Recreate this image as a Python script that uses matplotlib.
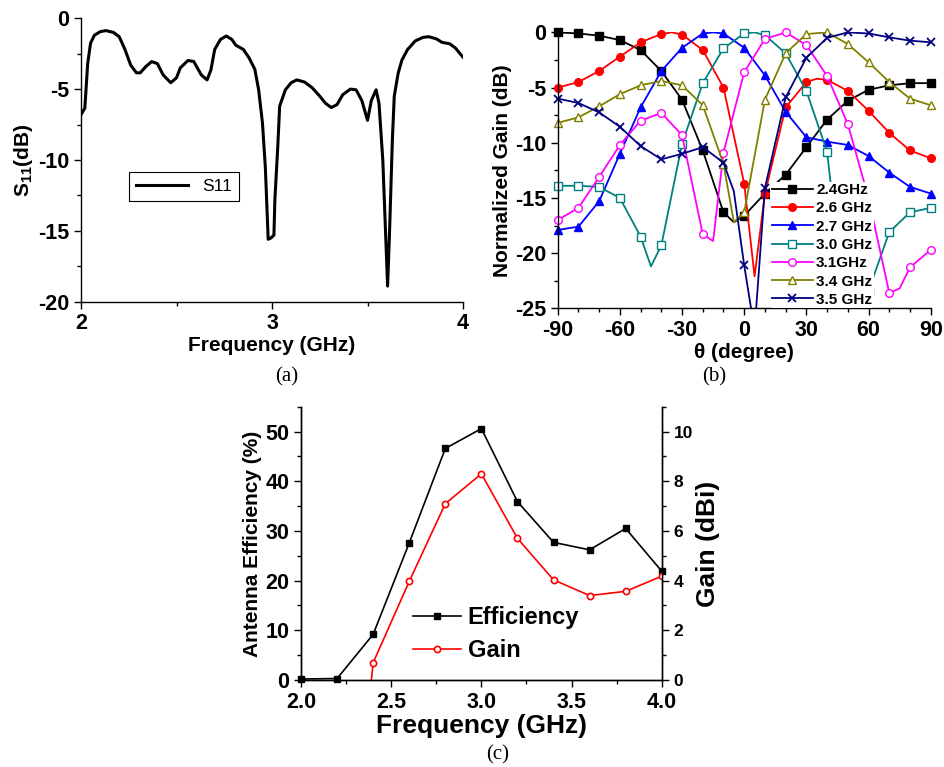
import numpy as np
import matplotlib
matplotlib.use("Agg")
import matplotlib.pyplot as plt
from matplotlib.ticker import MultipleLocator

plt.rcParams['font.family'] = ['Liberation Sans', 'DejaVu Sans']
plt.rcParams['font.weight'] = 'bold'
plt.rcParams['axes.labelweight'] = 'bold'
plt.rcParams['axes.unicode_minus'] = False
plt.rcParams['mathtext.fontset'] = 'custom'
plt.rcParams['mathtext.rm'] = 'Liberation Sans:bold'
plt.rcParams['mathtext.default'] = 'rm'

# ---------------- (a) S11 ----------------
freq_a = [2.0, 2.02, 2.035, 2.05, 2.07, 2.10, 2.13, 2.17, 2.20, 2.23, 2.26, 2.29, 2.31,
          2.34, 2.37, 2.40, 2.43, 2.47, 2.50, 2.52, 2.56, 2.59, 2.63, 2.66, 2.68, 2.70,
          2.73, 2.76, 2.79, 2.81, 2.85, 2.88, 2.91, 2.93, 2.95, 2.965, 2.98, 2.995, 3.01,
          3.015, 3.03, 3.04, 3.07, 3.10, 3.13, 3.17, 3.21, 3.25, 3.28, 3.31, 3.34, 3.37,
          3.41, 3.44, 3.47, 3.50, 3.52, 3.545, 3.56, 3.58, 3.60, 3.605, 3.615, 3.63, 3.64,
          3.66, 3.68, 3.71, 3.75, 3.79, 3.82, 3.86, 3.89, 3.93, 3.96, 4.0]
s11 = [-6.8, -6.35, -3.2, -1.76, -1.2, -0.95, -0.87, -1.0, -1.3, -2.2, -3.3, -3.85, -3.85,
       -3.4, -3.06, -3.2, -4.0, -4.55, -4.2, -3.5, -2.98, -3.05, -4.0, -4.35, -3.65, -2.2,
       -1.5, -1.25, -1.5, -1.9, -2.2, -2.8, -3.6, -5.05, -7.4, -10.5, -15.6, -15.5, -15.3,
       -12.8, -9.1, -6.2, -5.05, -4.55, -4.35, -4.5, -4.9, -5.5, -6.0, -6.3, -6.1, -5.4,
       -5.0, -5.05, -5.8, -7.2, -5.8, -5.05, -6.0, -10.0, -17.1, -18.9, -15.2, -8.6, -5.5,
       -3.9, -2.95, -2.2, -1.6, -1.35, -1.3, -1.45, -1.7, -1.8, -2.1, -2.75]

# ---------------- (b) normalized gain ----------------
labels_b = ['2.4GHz', '2.6 GHz', '2.7 GHz', '3.0 GHz', '3.1GHz', '3.4 GHz', '3.5 GHz']
colors_b = ['black', 'red', 'blue', '#008080', '#ff00ff', '#808000', '#000080']
markers_b = ['s', 'o', '^', 's', 'o', '^', 'x']
filled_b = [True, True, True, False, False, False, True]

th_24 = [-90, -80, -70, -60, -50, -40, -30, -20, -10, -5, 0, 10, 20, 30, 40, 50, 60, 70, 80, 90]
g_24 = [0, -0.1, -0.3, -0.7, -1.6, -3.5, -6.1, -10.7, -16.3, -17.2, -16.6, -14.6, -12.9,
        -10.4, -7.9, -6.2, -5.2, -4.8, -4.6, -4.6]
th_26 = [-90, -80, -70, -60, -50, -40, -35, -30, -20, -10, 0, 5, 10, 20, 30, 35, 40, 50, 60, 70, 80, 90]
g_26 = [-5.0, -4.5, -3.5, -2.2, -0.9, -0.15, 0.0, -0.2, -1.6, -5.0, -13.7, -22.1, -14.6,
        -6.8, -4.5, -4.2, -4.3, -5.3, -7.1, -9.1, -10.7, -11.4]
th_27 = [-90, -80, -70, -60, -50, -40, -30, -20, -15, -10, 0, 10, 20, 30, 40, 50, 60, 70, 80, 90]
g_27 = [-17.9, -17.6, -15.3, -11.0, -6.8, -3.5, -1.4, -0.1, 0.0, -0.1, -1.4, -3.9, -7.2,
        -9.5, -9.9, -10.2, -11.2, -12.7, -14.0, -14.6]
th_30 = [-90, -80, -70, -60, -50, -45, -40, -30, -20, -10, 0, 5, 10, 20, 30, 40, 50, 60, 70, 80, 90]
g_30 = [-13.9, -13.9, -14.0, -15.0, -18.5, -21.2, -19.3, -10.1, -4.6, -1.45, -0.1, 0.0,
        -0.25, -1.9, -5.3, -10.8, -27.5, -23.4, -18.1, -16.3, -15.9]
th_31 = [-90, -80, -70, -60, -50, -40, -30, -20, -15, -10, 0, 10, 20, 30, 40, 50, 60, 70, 75, 80, 90]
g_31 = [-17.0, -15.9, -13.1, -10.2, -8.0, -7.3, -9.3, -18.3, -18.9, -10.9, -3.6, -0.6, 0.0,
        -1.15, -3.95, -8.3, -15.0, -23.6, -23.2, -21.3, -19.7]
th_34 = [-90, -80, -70, -60, -50, -40, -30, -20, -10, -5, 0, 10, 20, 30, 40, 50, 60, 70, 80, 90]
g_34 = [-8.2, -7.7, -6.7, -5.6, -4.8, -4.4, -4.8, -6.6, -11.9, -17.2, -16.3, -6.1, -1.9,
        -0.15, 0.0, -1.06, -2.7, -4.5, -6.0, -6.6]
th_35 = [-90, -80, -70, -60, -50, -40, -30, -20, -10, -5, 0, 5, 10, 20, 30, 40, 50, 60, 70, 80, 90]
g_35 = [-6.0, -6.4, -7.25, -8.55, -10.3, -11.5, -11.0, -10.4, -11.8, -14.4, -21.1, -27.0,
        -14.1, -5.9, -2.3, -0.5, 0.0, -0.1, -0.45, -0.75, -0.9]

thetas_b = [th_24, th_26, th_27, th_30, th_31, th_34, th_35]
gains_b = [g_24, g_26, g_27, g_30, g_31, g_34, g_35]

# ---------------- (c) efficiency / gain ----------------
freq_c = [2.0, 2.2, 2.4, 2.6, 2.8, 3.0, 3.2, 3.4, 3.6, 3.8, 4.0]
eff_c = [0.2, 0.3, 9.2, 27.6, 46.6, 50.6, 35.9, 27.7, 26.2, 30.5, 21.9]
gain_c = [-15.0, -13.0, 0.7, 3.97, 7.1, 8.3, 5.7, 4.03, 3.4, 3.57, 4.18]

fig = plt.figure(figsize=(9.44, 7.67), dpi=100)


def style_axes(ax, right=False):
    ax.spines['top'].set_visible(False)
    if not right:
        ax.spines['right'].set_visible(False)
    for s in ax.spines.values():
        s.set_linewidth(1.0)
    ax.tick_params(which='both', direction='out')
    ax.tick_params(which='major', length=5, width=1)
    ax.tick_params(which='minor', length=3, width=1)


# ---- (a)
ax1 = fig.add_axes([0.0858, 0.6067, 0.4047, 0.3695])
ax1.plot(freq_a, s11, color='black', lw=2.2, label='S11')
ax1.set_xlim(2, 4)
ax1.set_ylim(-20, 0)
ax1.xaxis.set_major_locator(MultipleLocator(1))
ax1.xaxis.set_minor_locator(MultipleLocator(0.5))
ax1.yaxis.set_major_locator(MultipleLocator(5))
ax1.yaxis.set_minor_locator(MultipleLocator(2.5))
style_axes(ax1)
ax1.tick_params(labelsize=15.5)
ax1.set_xlabel('Frequency (GHz)', fontsize=15, labelpad=1)
ax1.set_ylabel('S$_{11}$(dB)', fontsize=15, labelpad=2)
leg1 = ax1.legend(loc='lower left', bbox_to_anchor=(0.126, 0.355), borderaxespad=0,
                  fancybox=False, edgecolor='black', framealpha=1, handlelength=3.0,
                  prop={'family': 'Liberation Sans', 'weight': 'normal', 'size': 12.5})
leg1.get_frame().set_linewidth(0.8)

# ---- (b)
ax2 = fig.add_axes([0.5908, 0.598, 0.3951, 0.3598])
for th, g, lab, c, m, f in zip(thetas_b, gains_b, labels_b, colors_b, markers_b, filled_b):
    th = np.array(th)
    g = np.array(g)
    ax2.plot(th, g, color=c, lw=1.3)
    keep = (th % 10 == 0) & (g >= -25)
    ax2.plot(th[keep], g[keep], ls='none', marker=m, color=c, ms=5.5,
             mfc=c if f else 'white', mew=1.3 if m == 'x' else 1.0, clip_on=False)
    ax2.plot([], [], color=c, lw=1.3, marker=m, ms=5.5,
             mfc=c if f else 'white', mew=1.3 if m == 'x' else 1.0, label=lab)
ax2.set_xlim(-90, 90)
ax2.set_ylim(-25, 0)
ax2.xaxis.set_major_locator(MultipleLocator(30))
ax2.xaxis.set_minor_locator(MultipleLocator(10))
ax2.yaxis.set_major_locator(MultipleLocator(5))
ax2.yaxis.set_minor_locator(MultipleLocator(2.5))
style_axes(ax2)
ax2.tick_params(labelsize=15.5)
ax2.set_xlabel('θ (degree)', fontsize=15, labelpad=1)
ax2.set_ylabel('Normalized Gain (dB)', fontsize=15, labelpad=2)
leg2 = ax2.legend(loc='lower left', bbox_to_anchor=(0.57, 0.0), borderaxespad=0,
                  frameon=True, facecolor='white', edgecolor='none', framealpha=1,
                  borderpad=0.1, handlelength=2.7, handletextpad=0.2, labelspacing=0.28,
                  prop={'weight': 'bold', 'size': 11})

# ---- (c)
ax3 = fig.add_axes([0.3189, 0.1134, 0.3821, 0.3563])
ax3r = ax3.twinx()
ax3.plot(freq_c, eff_c, color='black', lw=1.2, marker='s', ms=4.5, label='Efficiency',
         clip_on=False)
gl, = ax3r.plot(freq_c, gain_c, color='red', lw=1.2, marker='o', ms=4.5, mfc='white',
                mew=1.2, label='Gain')
ax3.set_xlim(2.0, 4.0)
ax3.set_ylim(0, 55)
ax3r.set_ylim(0, 11)
ax3.xaxis.set_major_locator(MultipleLocator(0.5))
ax3.xaxis.set_minor_locator(MultipleLocator(0.25))
ax3.yaxis.set_major_locator(MultipleLocator(10))
ax3.yaxis.set_minor_locator(MultipleLocator(5))
ax3r.yaxis.set_major_locator(MultipleLocator(2))
ax3r.yaxis.set_minor_locator(MultipleLocator(1))
style_axes(ax3, right=True)
style_axes(ax3r, right=True)
ax3.tick_params(labelsize=15.5)
ax3r.tick_params(labelsize=12.5)
ax3.set_xticks([2.0, 2.5, 3.0, 3.5, 4.0])
ax3.set_xticklabels(['2.0', '2.5', '3.0', '3.5', '4.0'])
ax3.set_xlabel('Frequency (GHz)', fontsize=19, labelpad=1)
ax3.set_ylabel('Antenna Efficiency (%)', fontsize=15, labelpad=2)
ax3r.set_ylabel('Gain (dBi)', fontsize=19, labelpad=2)
h1, l1 = ax3.get_legend_handles_labels()
ax3r.legend(h1 + [gl], l1 + ['Gain'], loc='lower left', bbox_to_anchor=(0.285, 0.032),
            borderaxespad=0, frameon=False, handlelength=2.0, handletextpad=0.3,
            labelspacing=0.4, prop={'weight': 'bold', 'size': 17})

# panel labels
fig.text(0.304, 0.5085, '(a)', ha='center', va='center', fontsize=15,
         family='Liberation Serif', weight='normal')
fig.text(0.757, 0.5085, '(b)', ha='center', va='center', fontsize=15,
         family='Liberation Serif', weight='normal')
fig.text(0.5275, 0.0156, '(c)', ha='center', va='center', fontsize=15,
         family='Liberation Serif', weight='normal')

fig.savefig('out.png', dpi=100)
